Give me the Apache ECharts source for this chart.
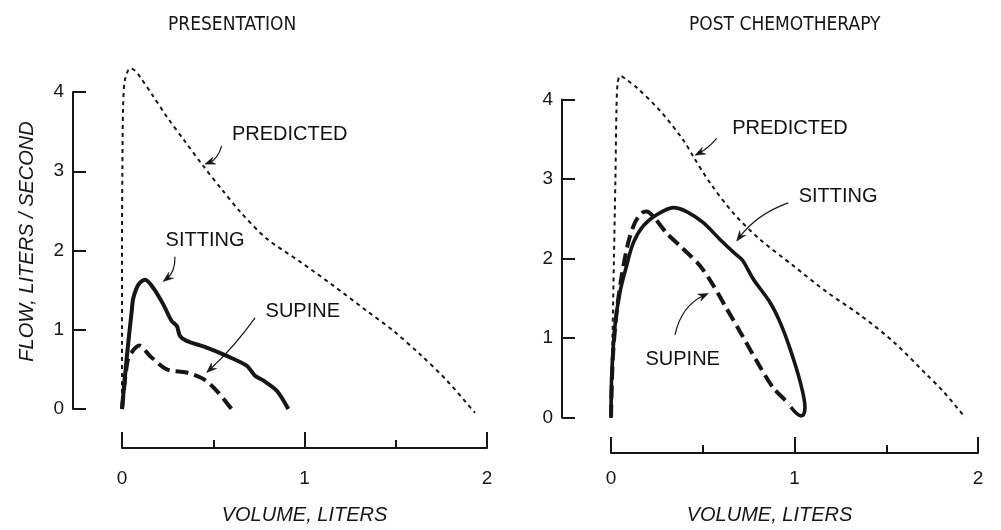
<!DOCTYPE html>
<html>
<head>
<meta charset="utf-8">
<script src="https://cdn.jsdelivr.net/npm/echarts@6/dist/echarts.min.js"></script>
<style>
  html, body { margin: 0; padding: 0; background: #fff; }
  #chart { width: 1001px; height: 530px; }
</style>
</head>
<body>
<div id="chart"></div>
<script>
// Flow-volume loops (volume in litres, flow in litres/second)
const panelTitles = ['PRESENTATION', 'POST CHEMOTHERAPY'];
const volumeTicks = [0, 1, 2];
const flowTicks = [0, 1, 2, 3, 4];

// Presentation
const predictedPre = [[0,0],[0,1.0],[0,2.0],[0.002,3.0],[0.006,3.8],[0.016,4.15],[0.045,4.3],[0.07,4.27],[0.099,4.19],[0.17,3.95],[0.245,3.69],[0.344,3.38],[0.444,3.07],[0.547,2.77],[0.647,2.49],[0.793,2.15],[0.975,1.86],[1.156,1.56],[1.34,1.24],[1.485,0.99],[1.633,0.69],[1.78,0.36],[1.934,-0.05]];
const sittingPre = [[0,0],[0.026,0.65],[0.053,1.23],[0.062,1.40],[0.09,1.57],[0.126,1.63],[0.172,1.525],[0.226,1.32],[0.272,1.11],[0.30,1.05],[0.318,0.92],[0.354,0.86],[0.464,0.775],[0.574,0.67],[0.683,0.546],[0.729,0.42],[0.774,0.36],[0.848,0.23],[0.911,0]];
const supinePre = [[0,0],[0.03,0.6],[0.055,0.72],[0.095,0.80],[0.153,0.67],[0.245,0.50],[0.354,0.46],[0.445,0.38],[0.519,0.23],[0.60,0.0]];

// Post chemotherapy
const predictedPost = [[0,0],[0.008,1.0],[0.016,2.0],[0.024,3.0],[0.03,3.9],[0.036,4.2],[0.05,4.3],[0.09,4.24],[0.14,4.15],[0.267,3.86],[0.394,3.49],[0.449,3.28],[0.54,2.95],[0.667,2.57],[0.812,2.24],[0.993,1.91],[1.175,1.58],[1.357,1.29],[1.538,0.955],[1.72,0.54],[1.81,0.33],[1.93,0]];
const sittingPost = [[0,0],[0.004,0.54],[0.022,1.16],[0.049,1.58],[0.085,1.91],[0.122,2.20],[0.176,2.41],[0.249,2.55],[0.34,2.64],[0.412,2.59],[0.503,2.45],[0.594,2.24],[0.667,2.08],[0.712,1.99],[0.73,1.93],[0.776,1.74],[0.866,1.45],[0.921,1.20],[0.975,0.87],[1.03,0.457],[1.057,0.13],[1.05,0.04],[1.035,0.02],[0.98,0.13]];
const supinePost = [[0,0],[0.01,0.75],[0.031,1.33],[0.058,1.78],[0.094,2.20],[0.13,2.45],[0.167,2.57],[0.194,2.59],[0.23,2.53],[0.303,2.32],[0.394,2.12],[0.485,1.91],[0.558,1.66],[0.63,1.37],[0.703,1.08],[0.794,0.71],[0.885,0.37],[0.975,0.166]];

// Curve labels: [volume, flow, text] (text starts at the point)
const labelsPre = [[0.60,3.46,'PREDICTED'],[0.236,2.13,'SITTING'],[0.784,1.23,'SUPINE']];
const labelsPost = [[0.658,3.63,'PREDICTED'],[1.02,2.78,'SITTING'],[0.185,0.726,'SUPINE']];
// Pointer arrows: [fromVol, fromFlow, toVol, toFlow, bend]
const arrowsPre = [[0.546,3.32,0.455,3.09,-0.25],[0.29,1.92,0.226,1.61,-0.25],[0.729,1.15,0.464,0.46,-0.05]];
const arrowsPost = [[0.576,3.51,0.458,3.30,-0.1],[0.966,2.70,0.685,2.22,0.15],[0.349,1.04,0.53,1.56,-0.25]];

const INK = '#161616';
const FONT = "'Liberation Sans', Arial, Helvetica, sans-serif";
const TITLE_FONT = "'Liberation Sans Narrow', 'Arial Narrow', 'DejaVu Sans Condensed', 'Liberation Sans', sans-serif";

const chart = echarts.init(document.getElementById('chart'), null, { renderer: 'canvas' });

function xAxisFor(grid, offset, labelMargin, nameGap, namePad) {
  return {
    type: 'value', gridIndex: grid, min: volumeTicks[0], max: volumeTicks[volumeTicks.length - 1], interval: 1,
    offset: offset,
    axisLine: { show: true, onZero: false, lineStyle: { color: INK, width: 2 } },
    axisTick: { show: true, inside: true, length: 16, lineStyle: { color: INK, width: 2 } },
    minorTick: { show: true, splitNumber: 2, length: 8, lineStyle: { color: INK, width: 2 } },
    splitLine: { show: false }, minorSplitLine: { show: false },
    axisLabel: { margin: labelMargin, fontSize: 19, color: INK, fontFamily: FONT },
    name: 'VOLUME, LITERS', nameLocation: 'middle', nameGap: nameGap,
    nameTextStyle: { fontStyle: 'italic', fontSize: 20, color: INK, fontFamily: FONT, padding: namePad }
  };
}
function yAxisFor(grid, withName) {
  return {
    type: 'value', gridIndex: grid, min: flowTicks[0], max: flowTicks[flowTicks.length - 1], interval: 1,
    offset: 49,
    axisLine: { show: true, onZero: false, lineStyle: { color: INK, width: 2 } },
    axisTick: { show: true, inside: true, length: 13, lineStyle: { color: INK, width: 2 } },
    splitLine: { show: false },
    axisLabel: { margin: 9, fontSize: 19, color: INK, fontFamily: FONT },
    name: withName ? 'FLOW, LITERS / SECOND' : '', nameLocation: 'middle', nameGap: 36, nameRotate: 90,
    nameTextStyle: { fontStyle: 'italic', fontSize: 20, color: INK, fontFamily: FONT, padding: [0, 0, 0, 18] }
  };
}
function curve(data, idx, style) {
  return {
    type: 'line', xAxisIndex: idx, yAxisIndex: idx, data: data, showSymbol: false, symbol: 'none',
    smooth: 0.3, clip: false, silent: true,
    lineStyle: Object.assign({ color: INK, cap: 'butt', join: 'round' }, style)
  };
}
function notes(labels, idx) {
  return {
    type: 'scatter', xAxisIndex: idx, yAxisIndex: idx, silent: true, symbolSize: 1,
    itemStyle: { color: 'rgba(0,0,0,0)' },
    data: labels,
    label: {
      show: true, position: 'right', distance: 0, color: '#111', opacity: 1, fontSize: 20, fontFamily: FONT,
      formatter: p => p.data[2]
    }
  };
}

chart.setOption({
  animation: false,
  backgroundColor: '#fff',
  title: [
    { text: panelTitles[0], left: 163, top: 11, textStyle: { fontSize: 19, fontWeight: 'normal', color: INK, fontFamily: TITLE_FONT } },
    { text: panelTitles[1], left: 684, top: 11, textStyle: { fontSize: 19, fontWeight: 'normal', color: INK, fontFamily: TITLE_FONT } }
  ],
  grid: [
    { left: 122, top: 92, width: 365, height: 320 },
    { left: 611, top: 99.5, width: 367, height: 320.5 }
  ],
  xAxis: [xAxisFor(0, 39, 21, 57, [0, 0, 0, 0]), xAxisFor(1, 35.5, 16, 52, [0, 50, 0, 0])],
  yAxis: [yAxisFor(0, true), yAxisFor(1, false)],
  series: [
    curve(predictedPre, 0, { width: 2, type: [4, 4] }),
    curve(sittingPre, 0, { width: 4, type: 'solid' }),
    curve(supinePre, 0, { width: 4, type: [13, 6] }),
    notes(labelsPre, 0),
    curve(predictedPost, 1, { width: 2, type: [4, 4] }),
    curve(sittingPost, 1, { width: 3.6, type: 'solid' }),
    curve(supinePost, 1, { width: 4, type: [13, 6] }),
    notes(labelsPost, 1)
  ]
});

// Curved pointer arrows, placed through each panel's own axes
function arrowShapes(arrows, gridIndex) {
  const out = [];
  arrows.forEach(a => {
    const p1 = chart.convertToPixel({ gridIndex: gridIndex }, [a[0], a[1]]);
    const p2 = chart.convertToPixel({ gridIndex: gridIndex }, [a[2], a[3]]);
    const dx = p2[0] - p1[0], dy = p2[1] - p1[1];
    const len = Math.hypot(dx, dy);
    const nx = -dy / len, ny = dx / len;
    const cp = [(p1[0] + p2[0]) / 2 + nx * a[4] * len, (p1[1] + p2[1]) / 2 + ny * a[4] * len];
    let ux = p2[0] - cp[0], uy = p2[1] - cp[1];
    const ul = Math.hypot(ux, uy); ux /= ul; uy /= ul;
    const vx = -uy, vy = ux, L = 10, W = 3.8;
    out.push({
      type: 'bezierCurve', silent: true,
      shape: { x1: p1[0], y1: p1[1], x2: p2[0] - ux * 5, y2: p2[1] - uy * 5, cpx1: cp[0], cpy1: cp[1] },
      style: { stroke: INK, lineWidth: 1.2, fill: null }
    });
    out.push({
      type: 'polygon', silent: true,
      shape: { points: [
        [p2[0], p2[1]],
        [p2[0] - ux * L + vx * W, p2[1] - uy * L + vy * W],
        [p2[0] - ux * L * 0.65, p2[1] - uy * L * 0.65],
        [p2[0] - ux * L - vx * W, p2[1] - uy * L - vy * W]
      ] },
      style: { fill: INK, stroke: INK, lineWidth: 0.6 }
    });
  });
  return out;
}
chart.setOption({ graphic: arrowShapes(arrowsPre, 0).concat(arrowShapes(arrowsPost, 1)) });
</script>
</body>
</html>
